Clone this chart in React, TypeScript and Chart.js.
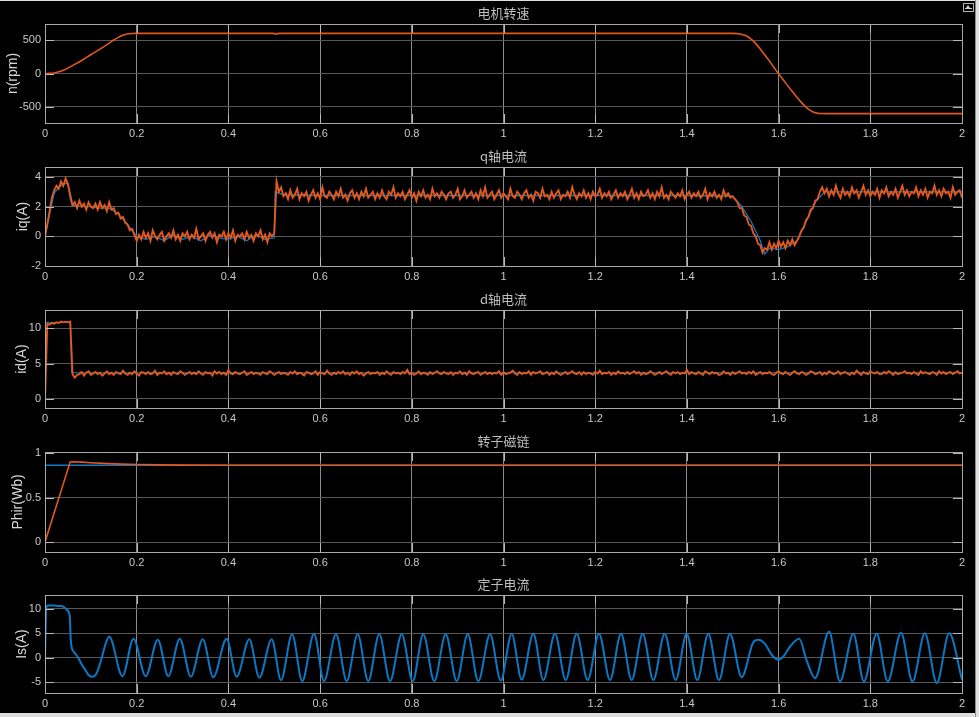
import React, { useEffect, useRef } from "react";
import { Chart, registerables } from "chart.js";

Chart.register(...registerables);

// ---------------- data ----------------
const X_TICKS = [0, 0.2, 0.4, 0.6, 0.8, 1, 1.2, 1.4, 1.6, 1.8, 2];
const X_TICK_LABELS = ["0", "0.2", "0.4", "0.6", "0.8", "1", "1.2", "1.4", "1.6", "1.8", "2"];

// motor speed n(rpm)
const SPEED_T = [0, 0.01, 0.02, 0.03, 0.04, 0.05, 0.06, 0.08, 0.1, 0.12, 0.14, 0.15, 0.16, 0.17, 0.18, 0.19, 0.2,
  0.499, 0.502, 0.506, 0.512,
  1.5, 1.51, 1.52, 1.53, 1.54, 1.55, 1.56, 1.57, 1.58, 1.59, 1.6, 1.61, 1.62, 1.63, 1.64, 1.65, 1.66, 1.67, 1.68, 1.69, 1.7,
  2.0];
const SPEED_V = [0, 2, 8, 25, 50, 80, 118, 195, 280, 365, 455, 500, 540, 572, 590, 598, 600,
  600, 588, 596, 600,
  600, 596, 583, 560, 515, 450, 365, 275, 185, 90, -5, -95, -185, -270, -355, -435, -505, -555, -588, -598, -600,
  -600];

// sampling interval of the recorded iq / id traces (s)
const SAMPLE_STEP = 0.005;

// q-axis current iq(A), measured (orange)
const IQ_V = [
  0, 0.8, 1.7, 2.6, 3.1, 3.4, 3.2, 3.7, 3.4, 3.9, 3.5, 2.8, 2.1, 2.3, 1.9, 2.4, 2.0, 2.2, 1.8, 2.3,
  2.0, 1.9, 2.2, 1.8, 2.3, 1.9, 2.1, 1.7, 2.3, 1.8, 1.9, 1.5, 1.6, 1.2, 1.3, 0.9, 0.8, 0.4, 0.5, 0.1,
  -0.3,
  0.1, -0.2, 0.3, -0.1, 0.2, -0.3, 0.4, 0.0, -0.2, 0.1,
  0.3, -0.3, 0.0, 0.2, -0.1, 0.4, -0.2, 0.1, -0.3, 0.2,
  0.0, 0.3, -0.2, 0.1, -0.1, 0.5, -0.2, 0.0, 0.2, -0.3,
  0.1, 0.3, -0.1, 0.2, -0.4, 0.1, 0.0, 0.3, -0.2, 0.2,
  -0.1, 0.4, -0.3, 0.1, 0.0, 0.2, -0.2, 0.3, -0.1, 0.1,
  -0.3, 0.2, 0.0, 0.4, -0.2, 0.1, -0.4, 0.2, 0.0,
  0.2, 3.7, 3.0, 3.3, 2.7,
  2.9, 2.5, 3.1, 2.6, 2.8, 3.2, 2.5, 2.9, 2.7, 3.0,
  2.4, 2.8, 3.1, 2.6, 2.9, 2.5, 3.3, 2.7, 2.6, 3.0,
  2.8, 2.5, 3.0, 2.7, 3.2, 2.6, 2.8, 2.4, 2.9, 3.1,
  2.6, 2.9, 2.5, 3.0, 2.7, 3.2, 2.6, 2.8, 3.0, 2.5,
  2.9, 2.6, 3.1, 2.7, 2.5, 3.0, 2.8, 3.3, 2.6, 2.9,
  2.7, 3.0, 2.5, 2.8, 3.1, 2.6, 2.9, 2.4, 3.0, 2.7,
  3.1, 2.6, 2.8, 2.5, 3.2, 2.7, 2.9, 2.6, 3.0, 2.8,
  2.5, 2.9, 3.0, 2.6, 2.8, 3.2, 2.5, 2.7, 3.1, 2.6,
  2.8, 3.0, 2.6, 2.9, 2.5, 3.1, 2.7, 3.3, 2.6, 2.8,
  3.0, 2.5, 2.8, 3.1, 2.6, 2.9, 2.7, 2.5, 3.2, 2.7,
  2.6, 3.0, 2.8, 2.5, 2.9, 3.1, 2.6, 2.8, 2.4, 3.0,
  2.9, 2.6, 3.2, 2.7, 2.8, 2.5, 3.0, 2.6, 2.9, 3.1,
  2.5, 2.8, 2.7, 3.0, 2.6, 3.3, 2.8, 2.5, 2.9, 2.7,
  3.1, 2.6, 2.9, 2.5, 3.0, 2.7, 2.8, 3.2, 2.6, 2.9,
  2.7, 3.0, 2.5, 2.8, 3.1, 2.6, 2.9, 2.7, 3.0, 2.5,
  2.8, 3.2, 2.6, 2.9, 2.5, 3.0, 2.7, 2.8, 3.1, 2.6,
  2.9, 2.5, 3.0, 2.7, 3.3, 2.6, 2.8, 2.5, 3.0, 2.8,
  2.6, 2.9, 2.7, 3.1, 2.5, 2.8, 3.0, 2.6, 2.9, 2.7,
  3.0, 2.6, 2.8, 3.2, 2.5, 2.9, 2.7, 3.0, 2.6, 2.8,
  2.5, 3.1, 2.7, 2.9, 2.6, 2.7,
  2.5, 2.3, 1.9, 1.9, 1.4, 1.3, 0.8, 0.7, 0.2, 0.0,
  -0.5, -0.6, -1.1, -0.8, -0.9, -0.4, -0.9, -0.5, -0.8, -0.3,
  -0.7, -0.4, -0.8, -0.3, -0.6, -0.2, -0.6, -0.3, 0.0, 0.4,
  0.6, 1.1, 1.3, 1.8, 1.9, 2.4, 2.5, 3.0, 3.3, 2.9,
  3.2, 2.7, 3.1, 2.8, 3.4, 2.9, 2.6, 3.2, 2.8, 3.0,
  2.7, 3.3, 2.9, 3.1, 2.6, 3.0, 3.4, 2.8, 3.1, 2.7,
  3.0, 2.8, 3.2, 2.6, 3.1, 2.9, 3.3, 2.7, 3.0, 2.8,
  3.2, 2.6, 3.0, 3.4, 2.8, 3.1, 2.7, 3.0, 2.9, 3.3,
  2.7, 3.1, 2.8, 3.2, 2.6, 3.0, 2.9, 3.4, 2.8, 3.1,
  2.7, 3.2, 2.9, 3.0, 2.6, 3.3, 2.8, 3.0, 3.1, 2.6,
];

// q-axis current reference (blue)
const IQ_REF_T = [0, 0.01, 0.02, 0.03, 0.04, 0.05, 0.055, 0.06,
  0.08, 0.1, 0.12, 0.14, 0.16, 0.18, 0.2,
  0.22, 0.24, 0.26, 0.28, 0.3, 0.32, 0.34, 0.36, 0.38, 0.4, 0.42, 0.44, 0.46, 0.48,
  0.5, 0.502, 0.52,
  0.6, 0.8, 1.0, 1.2, 1.4, 1.5,
  1.52, 1.54, 1.56, 1.57, 1.58, 1.6, 1.62, 1.64, 1.66, 1.68, 1.7,
  1.8, 1.9, 2.0];
const IQ_REF_V = [0, 1.5, 2.9, 3.3, 3.5, 3.6, 2.5, 2.1,
  2.0, 2.0, 1.9, 1.9, 1.5, 0.8, 0.0,
  -0.2, 0.0, -0.3, 0.1, -0.2, 0.0, -0.3, 0.1, -0.1, -0.2, 0.0, -0.3, 0.1, -0.2,
  -0.1, 3.0, 2.8,
  2.75, 2.75, 2.75, 2.75, 2.75, 2.7,
  2.0, 1.0, -0.3, -1.2, -0.8, -0.9, -0.7, -0.3, 1.0, 2.3, 3.0,
  3.0, 3.0, 3.0];

// d-axis current id(A), measured (orange)
const ID_V = [
  0, 10.6, 10.5, 10.7, 10.6, 10.8, 10.7, 10.9, 10.8, 10.9, 10.8, 10.9, 3.5, 3.0, 3.4,
  3.5, 3.8, 3.3, 3.7, 3.9, 3.4, 3.6, 3.8, 3.5, 3.7,
  3.3, 3.6, 3.9, 3.5, 3.7, 3.4, 3.8, 3.6, 3.5, 4.0,
  3.6, 3.4, 3.7, 3.5, 3.9, 3.6, 3.3, 3.8, 3.7, 3.5,
  3.8, 3.5, 3.6, 4.0, 3.4, 3.7, 3.6, 3.9, 3.5, 3.7,
  3.4, 3.8, 3.6, 3.5, 3.9, 3.7, 3.4, 3.6, 3.8, 3.5,
  3.7, 3.5, 3.9, 3.6, 3.4, 3.8, 3.6, 3.7, 3.3, 3.9,
  3.6, 3.8, 3.5, 3.7, 3.4, 4.1, 3.6, 3.5, 3.8, 3.6,
  3.5, 3.7, 3.9, 3.4, 3.6, 3.8, 3.5, 3.7, 3.6, 3.4,
  3.8, 3.6, 3.5, 3.9, 3.7, 3.4, 3.6, 3.8, 3.5, 3.7,
  3.6, 3.4, 3.8, 3.6, 3.9, 3.5, 3.7, 3.6, 3.3, 3.8,
  3.7, 3.5, 3.6, 3.9, 3.4, 3.8, 3.6, 3.5, 4.0, 3.6,
  3.4, 3.7, 3.5, 3.8, 3.6, 3.9, 3.5, 3.7, 3.4, 3.8,
  3.6, 3.9, 3.5, 3.7, 3.3, 3.6, 3.8, 3.5, 3.7, 3.6,
  3.8, 3.4, 3.7, 3.5, 3.9, 3.6, 3.4, 3.8, 3.6, 3.7,
  3.5, 3.8, 3.6, 4.1, 3.5, 3.7, 3.4, 3.6, 3.9, 3.5,
  3.7, 3.6, 3.4, 3.8, 3.5, 3.7, 3.9, 3.6, 3.5, 3.8,
  3.6, 3.5, 3.8, 3.4, 3.7, 3.6, 3.9, 3.5, 3.7, 3.4,
  3.9, 3.6, 3.5, 3.7, 3.8, 3.4, 3.6, 3.8, 3.5, 3.7,
  3.5, 3.7, 3.6, 3.9, 3.4, 3.8, 3.5, 3.6, 3.7, 4.0,
  3.6, 3.4, 3.8, 3.5, 3.7, 3.6, 3.9, 3.4, 3.8, 3.6,
  3.7, 3.9, 3.5, 3.6, 3.8, 3.4, 3.7, 3.5, 3.9, 3.6,
  3.4, 3.6, 3.8, 3.5, 3.7, 3.9, 3.6, 3.5, 3.8, 3.4,
  3.8, 3.5, 3.7, 3.6, 3.4, 3.8, 3.6, 4.0, 3.5, 3.7,
  3.6, 3.8, 3.4, 3.7, 3.5, 3.9, 3.6, 3.7, 3.5, 3.8,
  3.5, 3.7, 3.9, 3.6, 3.8, 3.4, 3.7, 3.5, 3.6, 3.9,
  3.7, 3.4, 3.6, 3.8, 3.5, 3.7, 3.9, 3.6, 3.4, 3.8,
  3.6, 3.8, 3.5, 3.7, 3.6, 4.1, 3.5, 3.8, 3.6, 3.5,
  3.8, 3.6, 3.4, 3.9, 3.7, 3.5, 3.8, 3.6, 3.7, 3.4,
  3.5, 3.9, 3.6, 3.7, 3.4, 3.8, 3.5, 3.7, 3.9, 3.6,
  3.7, 3.5, 3.8, 3.6, 3.9, 3.4, 3.6, 3.8, 3.5, 3.7,
  3.6, 3.8, 3.5, 3.4, 3.7, 3.9, 3.6, 3.5, 3.8, 3.6,
  3.4, 3.7, 3.9, 3.6, 3.5, 3.8, 3.7, 3.4, 3.6, 3.9,
  3.8, 3.5, 3.6, 3.8, 3.4, 3.7, 3.5, 3.9, 3.7, 3.5,
  3.6, 3.9, 3.5, 3.7, 3.8, 3.6, 3.4, 3.7, 3.5, 4.0,
  3.7, 3.4, 3.8, 3.6, 3.5, 3.9, 3.7, 3.6, 3.8, 3.5,
  3.5, 3.8, 3.6, 3.9, 3.7, 3.4, 3.8, 3.5, 3.6, 3.7,
  3.9, 3.6, 3.7, 3.5, 3.8, 3.6, 3.4, 3.9, 3.6, 3.8,
  3.6, 3.5, 3.8, 3.7, 3.4, 3.9, 3.6, 3.8, 3.5, 3.7,
  3.8, 3.5, 3.7, 3.9, 3.6, 3.7,
];

// d-axis current reference (blue)
const ID_REF_T = [0, 0.001, 0.055, 0.058, 2.0];
const ID_REF_V = [0, 10.8, 10.8, 3.7, 3.7];

// rotor flux Phir(Wb)
const PHI_T = [0, 0.055, 0.06, 0.08, 0.1, 0.15, 0.2, 0.25, 0.3, 0.4, 2.0];
const PHI_V = [0, 0.9, 0.902, 0.897, 0.89, 0.878, 0.87, 0.866, 0.864, 0.862, 0.862];
const PHI_REF_T = [0, 0.0005, 2.0];
const PHI_REF_V = [0, 0.862, 0.862];

// stator current Is(A) (turning points of the waveform)
const IS_T = [
  0, 0.003, 0.01, 0.02, 0.03, 0.036, 0.044, 0.05, 0.054, 0.056,
  0.058, 0.062, 0.068, 0.073, 0.08, 0.087, 0.0945, 0.102, 0.109, 0.116,
  0.1236, 0.131, 0.14,
  0.169, 0.193, 0.2196, 0.246, 0.269, 0.294, 0.318, 0.344, 0.367, 0.396, 0.418, 0.4456, 0.4675, 0.4944,
  0.5147, 0.539, 0.561, 0.5867, 0.6085, 0.6347, 0.658, 0.682, 0.705, 0.729, 0.7525, 0.778, 0.802, 0.825,
  0.849, 0.874, 0.898, 0.922, 0.945, 0.9706, 0.994,
  1.0178, 1.0396, 1.0651, 1.0869, 1.1123, 1.1356, 1.1596, 1.1836, 1.2083, 1.2323, 1.2563, 1.2795,
  1.3035, 1.3268, 1.3515, 1.3755, 1.3995, 1.4227, 1.4467, 1.47, 1.494, 1.5194,
  1.545, 1.5558, 1.57, 1.585, 1.5994, 1.61, 1.625, 1.645, 1.661, 1.6794,
  1.71, 1.734, 1.763, 1.786, 1.814, 1.838, 1.867, 1.892, 1.919, 1.945, 1.972, 2.0,
];
const IS_V = [
  0, 10.5, 10.7, 10.7, 10.6, 10.6, 10.2, 9.6, 8.5, 4.0,
  2.2, 1.3, 0.6, -0.1, -1.4, -2.4, -3.5, -3.9, -3.7, -2.4,
  -0.1, 2.5, 4.35,
  -3.8, 3.9, -3.8, 3.7, -3.8, 3.9, -3.9, 3.8, -4.0, 3.9, -3.9, 3.8, -4.1, 3.8,
  -4.6, 4.8, -4.8, 4.9, -4.8, 4.8, -4.8, 4.8, -4.8, 4.8, -4.8, 4.8, -4.8, 4.8,
  -4.8, 4.8, -4.8, 4.8, -4.8, 4.8, -4.7,
  4.9, -4.5, 4.9, -4.6, 4.9, -4.6, 4.9, -4.6, 4.9, -4.6, 4.9, -4.6,
  4.9, -4.6, 4.9, -4.6, 4.9, -4.6, 4.9, -4.6, 4.9, -4.0,
  3.2, 3.7, 2.9, 0.6, -0.4, 0.2, 2.3, 3.9, -0.5, -4.2,
  5.3, -4.9, 4.9, -4.9, 4.9, -4.9, 5.1, -4.9, 5.0, -5.2, 5.0, -4.5,
];

// ---------------- styling / layout ----------------
const ORANGE = "#e2581d";
const BLUE = "#0b78c6";
const TEXT = "#c8c8c8";
const W = 979;
const TITLE_SPACE = 24;
const AXIS_SPACE = 24;

type Pt = { x: number; y: number };
const pairs = (t: number[], v: number[]): Pt[] => v.map((y, i) => ({ x: t[i], y }));
const sampled = (v: number[], step: number): Pt[] => v.map((y, i) => ({ x: +(i * step).toFixed(4), y }));

type Series = { data: Pt[]; color: string; width: number; smooth?: boolean };
type PanelCfg = {
  top: number; bottom: number; min: number; max: number;
  yTicks: number[]; yLabels: string[]; title: string; yTitle: string; yTitlePad: number;
  series: Series[];
};

const PANELS: PanelCfg[] = [
  {
    top: 24, bottom: 123, min: -740, max: 740, yTicks: [-500, 0, 500], yLabels: ["-500", "0", "500"],
    title: "电机转速", yTitle: "n(rpm)", yTitlePad: 5,
    series: [{ data: pairs(SPEED_T, SPEED_V), color: ORANGE, width: 1.6, smooth: true }],
  },
  {
    top: 167, bottom: 266, min: -2, max: 4.67, yTicks: [-2, 0, 2, 4], yLabels: ["-2", "0", "2", "4"],
    title: "q轴电流", yTitle: "iq(A)", yTitlePad: 14.5,
    series: [
      { data: sampled(IQ_V, SAMPLE_STEP), color: ORANGE, width: 1.9 },
      { data: pairs(IQ_REF_T, IQ_REF_V), color: BLUE, width: 1.3 },
    ],
  },
  {
    top: 310, bottom: 408, min: -1.27, max: 12.54, yTicks: [0, 5, 10], yLabels: ["0", "5", "10"],
    title: "d轴电流", yTitle: "id(A)", yTitlePad: 14,
    series: [
      { data: sampled(ID_V, SAMPLE_STEP), color: ORANGE, width: 1.9 },
      { data: pairs(ID_REF_T, ID_REF_V), color: BLUE, width: 1 },
    ],
  },
  {
    top: 452, bottom: 552, min: -0.112, max: 1.011, yTicks: [0, 0.5, 1], yLabels: ["0", "0.5", "1"],
    title: "转子磁链", yTitle: "Phir(Wb)", yTitlePad: 9.5,
    series: [
      { data: pairs(PHI_T, PHI_V), color: ORANGE, width: 1.6 },
      { data: pairs(PHI_REF_T, PHI_REF_V), color: BLUE, width: 1.6 },
    ],
  },
  {
    top: 595, bottom: 693, min: -7.25, max: 12.87, yTicks: [-5, 0, 5, 10], yLabels: ["-5", "0", "5", "10"],
    title: "定子电流", yTitle: "Is(A)", yTitlePad: 13.5,
    series: [{ data: pairs(IS_T, IS_V), color: BLUE, width: 2, smooth: true }],
  },
];

function Panel({ p }: { p: PanelCfg }) {
  const ref = useRef<HTMLCanvasElement>(null);
  const h = p.bottom - p.top + TITLE_SPACE + AXIS_SPACE;

  useEffect(() => {
    const canvas = ref.current;
    if (!canvas) return;
    const frame = {
      id: "frame" + p.title,
      afterDatasetsDraw(chart: any) {
        const { ctx, chartArea: a, scales } = chart;
        ctx.save();
        ctx.strokeStyle = "#b8b8b8";
        ctx.lineWidth = 1;
        ctx.beginPath();
        X_TICKS.forEach((v) => {
          const x = Math.round(scales.x.getPixelForValue(v)) + 0.5;
          ctx.moveTo(x, a.top); ctx.lineTo(x, a.top + 9);
          ctx.moveTo(x, a.bottom); ctx.lineTo(x, a.bottom - 9);
        });
        p.yTicks.forEach((v) => {
          const y = Math.round(scales.y.getPixelForValue(v)) + 0.5;
          ctx.moveTo(a.left, y); ctx.lineTo(a.left + 9, y);
          ctx.moveTo(a.right, y); ctx.lineTo(a.right - 9, y);
        });
        ctx.stroke();
        ctx.strokeStyle = "#a8a8a8";
        ctx.strokeRect(Math.round(a.left) + 0.5, Math.round(a.top) + 0.5,
          Math.round(a.right - a.left), Math.round(a.bottom - a.top));
        ctx.fillStyle = "#bdbdbd";
        ctx.font = '13px "Noto Sans CJK SC"';
        ctx.textAlign = "center";
        ctx.textBaseline = "middle";
        ctx.fillText(p.title, (a.left + a.right) / 2, a.top - 11);
        ctx.restore();
      },
    };

    const chart = new Chart(canvas, {
      type: "line",
      data: {
        datasets: p.series.map((s) => ({
          data: s.data,
          borderColor: s.color,
          backgroundColor: s.color,
          borderWidth: s.width,
          pointRadius: 0,
          fill: false,
          cubicInterpolationMode: s.smooth ? "monotone" : "default",
          tension: 0,
        })),
      },
      options: {
        animation: false,
        responsive: false,
        events: [],
        layout: { padding: { top: TITLE_SPACE, right: 17, left: 0, bottom: 0 } },
        plugins: { legend: { display: false }, tooltip: { enabled: false }, title: { display: false } },
        scales: {
          x: {
            type: "linear",
            min: 0,
            max: 2,
            afterBuildTicks: (s: any) => { s.ticks = X_TICKS.map((v) => ({ value: v })); },
            afterFit: (s: any) => { s.height = AXIS_SPACE; },
            ticks: {
              autoSkip: false, maxRotation: 0, padding: 4, color: TEXT,
              font: { family: "Liberation Sans", size: 11 },
              callback: (_v: any, i: number) => X_TICK_LABELS[i],
            },
            grid: { color: "#8a8a8a", lineWidth: 1, drawTicks: false },
            border: { display: false },
          },
          y: {
            type: "linear",
            min: p.min,
            max: p.max,
            afterBuildTicks: (s: any) => { s.ticks = p.yTicks.map((v) => ({ value: v })); },
            afterFit: (s: any) => { s.width = 45; },
            ticks: {
              autoSkip: false, padding: 4, color: TEXT,
              font: { family: "Liberation Sans", size: 11 },
              callback: (_v: any, i: number) => p.yLabels[i],
            },
            grid: { color: "#575757", lineWidth: 1, drawTicks: false },
            border: { display: false },
            title: {
              display: true, text: p.yTitle, color: "#d8d8d8",
              font: { family: "Liberation Sans", size: 14 },
              padding: { top: p.yTitlePad, bottom: 0 },
            },
          },
        },
      },
      plugins: [frame],
    } as any);
    return () => chart.destroy();
  }, [p]);

  return (
    <canvas
      ref={ref}
      width={W}
      height={h}
      style={{ position: "absolute", left: 0, top: p.top - TITLE_SPACE, width: W, height: h }}
    />
  );
}

export default function App() {
  return (
    <div style={{ position: "fixed", left: 0, top: 0, width: 979, height: 717, background: "#dedede", overflow: "hidden" }}>
      <div style={{ position: "absolute", left: 0, top: 1, width: 975, height: 712, background: "#000" }} />
      <div style={{ position: "absolute", left: 975, top: 0, width: 1, height: 717, background: "#8a8a8a" }} />
      <div style={{ position: "absolute", left: 963, top: 3, width: 9, height: 7, border: "1px solid #b0b0b0" }}>
        <div style={{ position: "absolute", left: 2, top: 1, width: 0, height: 0, borderLeft: "2.5px solid transparent", borderRight: "2.5px solid transparent", borderBottom: "3px solid #d0d0d0" }} />
        <div style={{ position: "absolute", left: 1, top: 4, width: 7, height: 1, background: "#d0d0d0" }} />
      </div>
      {PANELS.map((p) => (
        <Panel key={p.title} p={p} />
      ))}
    </div>
  );
}
